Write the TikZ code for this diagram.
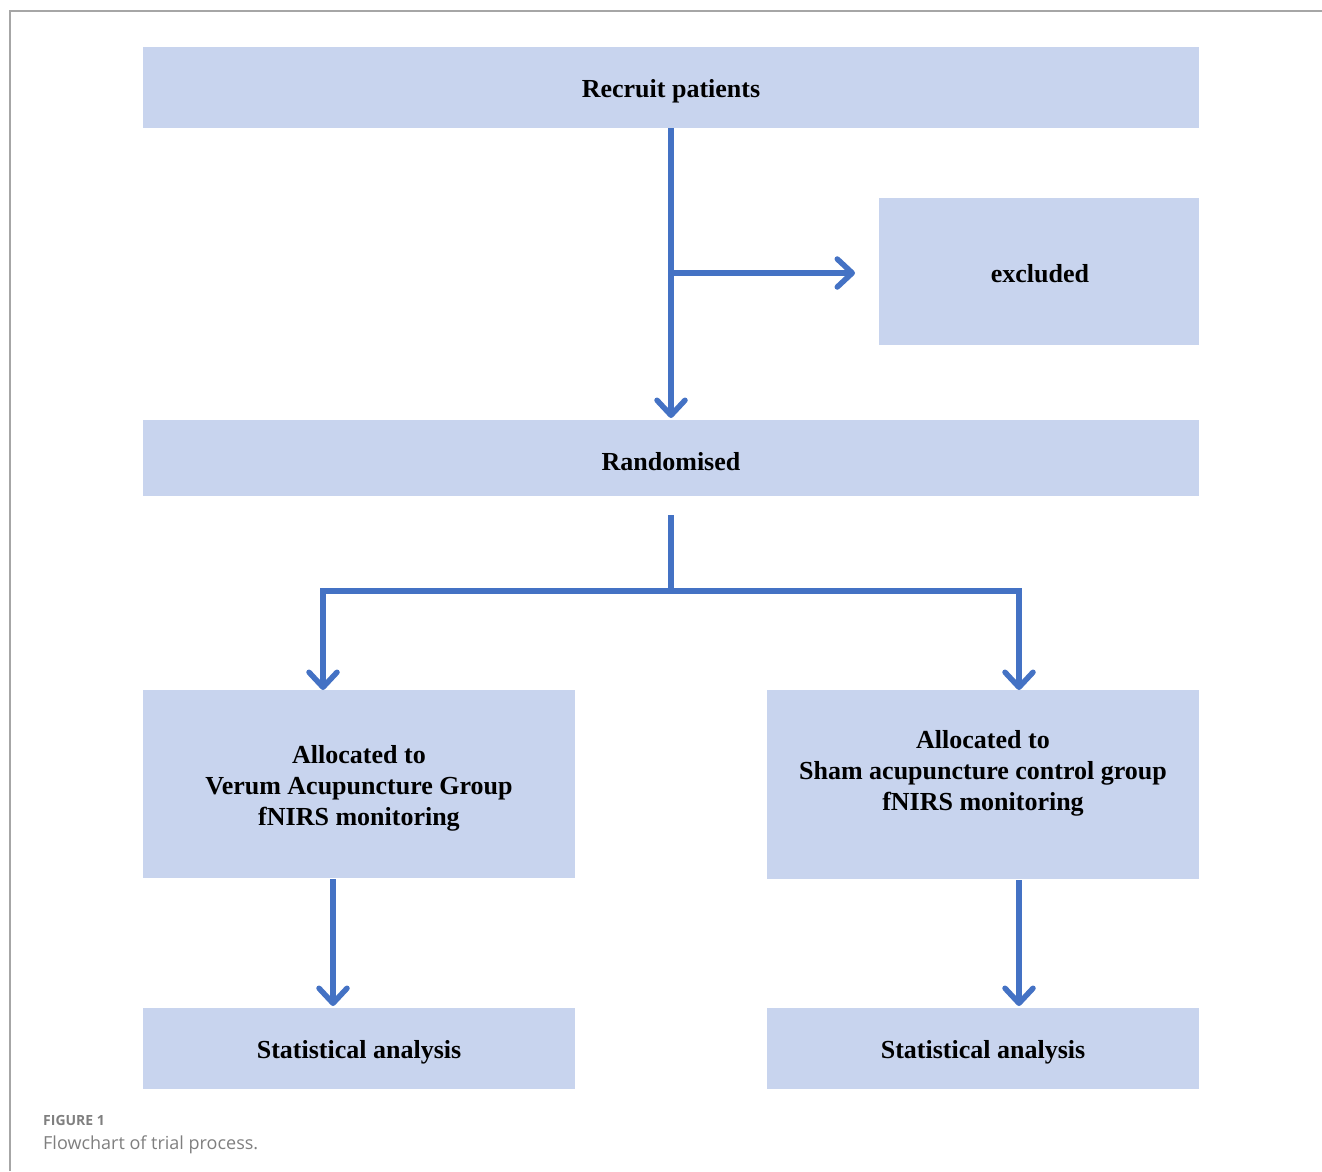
\documentclass[tikz,border=0pt]{standalone}
\usepackage{fontspec}
\setmainfont{Liberation Serif}
\newfontfamily\capfont{Open Sans}
\usetikzlibrary{arrows.meta}
\definecolor{boxfill}{HTML}{C8D4EE}
\definecolor{arrowblue}{HTML}{4472C4}
\definecolor{framegray}{HTML}{A6A6A6}
\definecolor{capgray}{HTML}{7F7F7F}
\begin{document}
\begin{tikzpicture}[x=1pt,y=-1pt,
  box/.style={fill=boxfill,draw=none,inner sep=0pt},
  lbl/.style={font=\fontsize{26}{31}\selectfont\bfseries,align=center,inner sep=0pt},
  flow/.style={draw=arrowblue,line width=5.5pt,line join=miter},
  tip/.style={-{Straight Barb[length=15pt,width=28pt,line cap=round,line join=round]}}
]
\useasboundingbox (0,0) rectangle (1322,1171);
% frame
\draw[framegray,line width=1.5pt] (10,1171) -- (10,11) -- (1322,11);
% boxes
\node[box,minimum width=1056pt,minimum height=81pt] (recruit) at (671,87.5) {};
\node[box,minimum width=320pt,minimum height=147pt] (excl) at (1039,271.5) {};
\node[box,minimum width=1056pt,minimum height=76pt] (rand) at (671,458) {};
\node[box,minimum width=432pt,minimum height=188pt] (verum) at (359,784) {};
\node[box,minimum width=432pt,minimum height=189pt] (sham) at (983,784.5) {};
\node[box,minimum width=432pt,minimum height=81pt] (statL) at (359,1048.5) {};
\node[box,minimum width=432pt,minimum height=81pt] (statR) at (983,1048.5) {};
% texts
\node[lbl] (trecruit) at (671,91) {Recruit patients};
\node[lbl] (texcl) at (1040,274) {excluded};
\node[lbl] (trand) at (671,462) {Randomised};
\node[lbl] (tverum) at (359,788) {Allocated to\\Verum Acupuncture Group\\fNIRS monitoring};
\node[lbl] (tsham) at (983,773) {Allocated to\\Sham acupuncture control group\\fNIRS monitoring};
\node[lbl] (tstatL) at (359,1052) {Statistical analysis};
\node[lbl] (tstatR) at (983,1052) {Statistical analysis};
% connectors
\coordinate (branch) at (671,273);
\coordinate (exclend) at (855,273);
\coordinate (randtop) at (671,418);
\coordinate (randout) at (671,515);
\coordinate (split) at (671,591);
\coordinate (lcorner) at (323,591);
\coordinate (rcorner) at (1019,591);
\coordinate (lend) at (323,690);
\coordinate (rend) at (1019,690);
\coordinate (vstart) at (333,879);
\coordinate (vend) at (333,1006);
\coordinate (sstart) at (1019,880);
\coordinate (send) at (1019,1006);
\draw[flow,tip] (recruit.south) -- (randtop);
\draw[flow,tip] (branch) -- (exclend);
\draw[flow] (randout) -- (split);
\draw[flow,tip] (split) -- (lcorner) -- (lend);
\draw[flow,tip] (split) -- (rcorner) -- (rend);
\draw[flow,tip] (vstart) -- (vend);
\draw[flow,tip] (sstart) -- (send);
% caption
\node[anchor=base west,inner sep=0pt,text=capgray,font=\capfont\fontsize{14}{16}\selectfont\bfseries] (figlbl) at (43,1125) {FIGURE 1};
\node[anchor=base west,inner sep=0pt,text=capgray,font=\capfont\fontsize{18}{22}\selectfont] (figcap) at (43,1149) {Flowchart of trial process.};
\end{tikzpicture}
\end{document}
